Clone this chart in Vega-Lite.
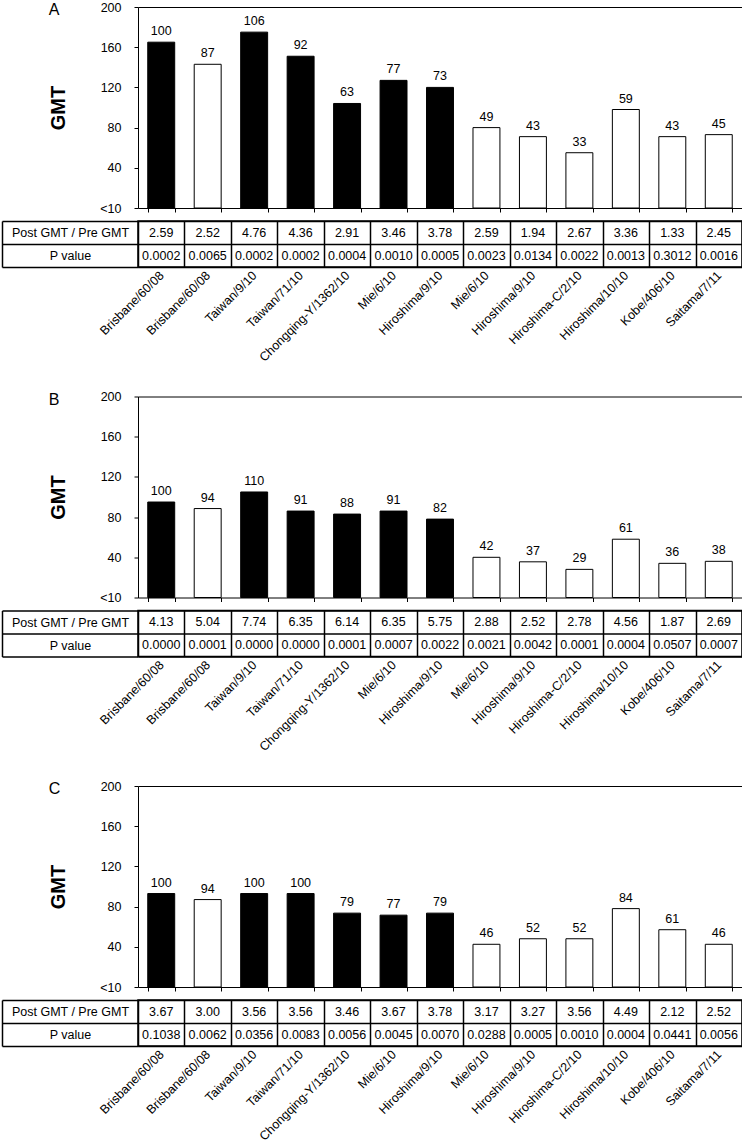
{
  "$schema": "https://vega.github.io/schema/vega-lite/v6.json",
  "autosize": {"type": "pad"},
  "padding": {"left": 0, "top": 0, "right": 0, "bottom": 0},
  "background": "white",
  "spacing": 24.5,
  "data": {"name": "rows"},
  "datasets": {
    "rows": [
      {"panel": "A", "key": "01 Brisbane/60/08", "gmt": 165, "label": 100, "group": "I", "Post GMT / Pre GMT": "2.59", "P value": "0.0002"},
      {"panel": "A", "key": "02 Brisbane/60/08", "gmt": 143, "label": 87, "group": "II", "Post GMT / Pre GMT": "2.52", "P value": "0.0065"},
      {"panel": "A", "key": "03 Taiwan/9/10", "gmt": 175, "label": 106, "group": "I", "Post GMT / Pre GMT": "4.76", "P value": "0.0002"},
      {"panel": "A", "key": "04 Taiwan/71/10", "gmt": 151, "label": 92, "group": "I", "Post GMT / Pre GMT": "4.36", "P value": "0.0002"},
      {"panel": "A", "key": "05 Chongqing-Y/1362/10", "gmt": 104, "label": 63, "group": "I", "Post GMT / Pre GMT": "2.91", "P value": "0.0004"},
      {"panel": "A", "key": "06 Mie/6/10", "gmt": 127, "label": 77, "group": "I", "Post GMT / Pre GMT": "3.46", "P value": "0.0010"},
      {"panel": "A", "key": "07 Hiroshima/9/10", "gmt": 120, "label": 73, "group": "I", "Post GMT / Pre GMT": "3.78", "P value": "0.0005"},
      {"panel": "A", "key": "08 Mie/6/10", "gmt": 80, "label": 49, "group": "II", "Post GMT / Pre GMT": "2.59", "P value": "0.0023"},
      {"panel": "A", "key": "09 Hiroshima/9/10", "gmt": 71, "label": 43, "group": "II", "Post GMT / Pre GMT": "1.94", "P value": "0.0134"},
      {"panel": "A", "key": "10 Hiroshima-C/2/10", "gmt": 55, "label": 33, "group": "II", "Post GMT / Pre GMT": "2.67", "P value": "0.0022"},
      {"panel": "A", "key": "11 Hiroshima/10/10", "gmt": 98, "label": 59, "group": "II", "Post GMT / Pre GMT": "3.36", "P value": "0.0013"},
      {"panel": "A", "key": "12 Kobe/406/10", "gmt": 71, "label": 43, "group": "II", "Post GMT / Pre GMT": "1.33", "P value": "0.3012"},
      {"panel": "A", "key": "13 Saitama/7/11", "gmt": 73, "label": 45, "group": "II", "Post GMT / Pre GMT": "2.45", "P value": "0.0016"},

      {"panel": "B", "key": "01 Brisbane/60/08", "gmt": 95, "label": 100, "group": "I", "Post GMT / Pre GMT": "4.13", "P value": "0.0000"},
      {"panel": "B", "key": "02 Brisbane/60/08", "gmt": 88.5, "label": 94, "group": "II", "Post GMT / Pre GMT": "5.04", "P value": "0.0001"},
      {"panel": "B", "key": "03 Taiwan/9/10", "gmt": 105, "label": 110, "group": "I", "Post GMT / Pre GMT": "7.74", "P value": "0.0000"},
      {"panel": "B", "key": "04 Taiwan/71/10", "gmt": 86, "label": 91, "group": "I", "Post GMT / Pre GMT": "6.35", "P value": "0.0000"},
      {"panel": "B", "key": "05 Chongqing-Y/1362/10", "gmt": 83, "label": 88, "group": "I", "Post GMT / Pre GMT": "6.14", "P value": "0.0001"},
      {"panel": "B", "key": "06 Mie/6/10", "gmt": 86, "label": 91, "group": "I", "Post GMT / Pre GMT": "6.35", "P value": "0.0007"},
      {"panel": "B", "key": "07 Hiroshima/9/10", "gmt": 78, "label": 82, "group": "I", "Post GMT / Pre GMT": "5.75", "P value": "0.0022"},
      {"panel": "B", "key": "08 Mie/6/10", "gmt": 40, "label": 42, "group": "II", "Post GMT / Pre GMT": "2.88", "P value": "0.0021"},
      {"panel": "B", "key": "09 Hiroshima/9/10", "gmt": 35.5, "label": 37, "group": "II", "Post GMT / Pre GMT": "2.52", "P value": "0.0042"},
      {"panel": "B", "key": "10 Hiroshima-C/2/10", "gmt": 28, "label": 29, "group": "II", "Post GMT / Pre GMT": "2.78", "P value": "0.0001"},
      {"panel": "B", "key": "11 Hiroshima/10/10", "gmt": 58, "label": 61, "group": "II", "Post GMT / Pre GMT": "4.56", "P value": "0.0004"},
      {"panel": "B", "key": "12 Kobe/406/10", "gmt": 34, "label": 36, "group": "II", "Post GMT / Pre GMT": "1.87", "P value": "0.0507"},
      {"panel": "B", "key": "13 Saitama/7/11", "gmt": 36, "label": 38, "group": "II", "Post GMT / Pre GMT": "2.69", "P value": "0.0007"},

      {"panel": "C", "key": "01 Brisbane/60/08", "gmt": 93, "label": 100, "group": "I", "Post GMT / Pre GMT": "3.67", "P value": "0.1038"},
      {"panel": "C", "key": "02 Brisbane/60/08", "gmt": 87, "label": 94, "group": "II", "Post GMT / Pre GMT": "3.00", "P value": "0.0062"},
      {"panel": "C", "key": "03 Taiwan/9/10", "gmt": 93, "label": 100, "group": "I", "Post GMT / Pre GMT": "3.56", "P value": "0.0356"},
      {"panel": "C", "key": "04 Taiwan/71/10", "gmt": 93, "label": 100, "group": "I", "Post GMT / Pre GMT": "3.56", "P value": "0.0083"},
      {"panel": "C", "key": "05 Chongqing-Y/1362/10", "gmt": 73.5, "label": 79, "group": "I", "Post GMT / Pre GMT": "3.46", "P value": "0.0056"},
      {"panel": "C", "key": "06 Mie/6/10", "gmt": 71.5, "label": 77, "group": "I", "Post GMT / Pre GMT": "3.67", "P value": "0.0045"},
      {"panel": "C", "key": "07 Hiroshima/9/10", "gmt": 73.5, "label": 79, "group": "I", "Post GMT / Pre GMT": "3.78", "P value": "0.0070"},
      {"panel": "C", "key": "08 Mie/6/10", "gmt": 42.5, "label": 46, "group": "II", "Post GMT / Pre GMT": "3.17", "P value": "0.0288"},
      {"panel": "C", "key": "09 Hiroshima/9/10", "gmt": 48, "label": 52, "group": "II", "Post GMT / Pre GMT": "3.27", "P value": "0.0005"},
      {"panel": "C", "key": "10 Hiroshima-C/2/10", "gmt": 48, "label": 52, "group": "II", "Post GMT / Pre GMT": "3.56", "P value": "0.0010"},
      {"panel": "C", "key": "11 Hiroshima/10/10", "gmt": 78, "label": 84, "group": "II", "Post GMT / Pre GMT": "4.49", "P value": "0.0004"},
      {"panel": "C", "key": "12 Kobe/406/10", "gmt": 57, "label": 61, "group": "II", "Post GMT / Pre GMT": "2.12", "P value": "0.0441"},
      {"panel": "C", "key": "13 Saitama/7/11", "gmt": 42.5, "label": 46, "group": "II", "Post GMT / Pre GMT": "2.52", "P value": "0.0056"}
    ]
  },
  "vconcat": [
    {
      "spacing": -1,
      "vconcat": [
        {
          "width": 604, "height": 201,
          "title": {"text": "A", "anchor": "start", "frame": "bounds", "fontSize": 16, "fontWeight": "normal", "offset": -17, "color": "black"},
          "view": {"stroke": "black", "strokeWidth": 1},
          "transform": [{"filter": "datum.panel === 'A'"}],
          "encoding": {
            "x": {"field": "key", "type": "nominal", "scale": {"paddingInner": 0.42, "paddingOuter": 0.21}, "axis": {"title": null, "labels": false, "domain": false, "ticks": true, "tickBand": "extent", "tickSize": 4, "maxExtent": 4, "minExtent": 4}},
            "y": {"field": "gmt", "type": "quantitative", "scale": {"domain": [0, 200], "nice": false}, "axis": {"title": "GMT", "values": [0, 40, 80, 120, 160, 200], "labelExpr": "datum.value === 0 ? '<10' : datum.label", "grid": false, "domain": false, "tickSize": 4, "labelPadding": 13, "titleFontSize": 20, "titleFontWeight": "bold", "titlePadding": 31}}
          },
          "layer": [
            {"mark": {"type": "bar", "stroke": "black", "strokeWidth": 1}, "encoding": {"fill": {"field": "group", "type": "nominal", "scale": {"domain": ["I", "II"], "range": ["black", "white"]}, "legend": null}}},
            {"mark": {"type": "text", "baseline": "bottom", "dy": -4, "fontSize": 12.5, "color": "black"}, "encoding": {"text": {"field": "label"}}}
          ]
        },
        {
          "width": 604, "height": 46,
          "view": {"stroke": "black", "strokeWidth": 1.5},
          "transform": [{"filter": "datum.panel === 'A'"}, {"fold": ["Post GMT / Pre GMT", "P value"], "as": ["metric", "value"]}],
          "mark": {"type": "text", "fontSize": 12.5, "color": "black"},
          "encoding": {
            "x": {"field": "key", "type": "nominal", "scale": {"type": "band", "paddingInner": 0, "paddingOuter": 0}, "axis": {"title": null, "labelExpr": "substring(datum.label, 3)", "labelAngle": -45, "labelAlign": "right", "labelBaseline": "middle", "labelPadding": 6, "ticks": false, "domain": false, "grid": true, "tickBand": "extent", "gridColor": "black", "gridWidth": 1.5, "gridOpacity": 1}},
            "y": {"field": "metric", "type": "nominal", "sort": ["Post GMT / Pre GMT", "P value"], "scale": {"type": "band", "paddingInner": 0, "paddingOuter": 0}, "axis": {"title": null, "offset": 136, "domain": true, "domainWidth": 1.5, "ticks": true, "tickSize": -136, "tickWidth": 1.5, "tickBand": "extent", "labelAlign": "center", "labelPadding": 68, "grid": true, "gridColor": "black", "gridWidth": 1.5, "gridOpacity": 1}},
            "text": {"field": "value"}
          }
        }
      ]
    },
    {
      "spacing": -1,
      "vconcat": [
        {
          "width": 604, "height": 201,
          "title": {"text": "B", "anchor": "start", "frame": "bounds", "fontSize": 16, "fontWeight": "normal", "offset": -17, "color": "black"},
          "view": {"stroke": "black", "strokeWidth": 1},
          "transform": [{"filter": "datum.panel === 'B'"}],
          "encoding": {
            "x": {"field": "key", "type": "nominal", "scale": {"paddingInner": 0.42, "paddingOuter": 0.21}, "axis": {"title": null, "labels": false, "domain": false, "ticks": true, "tickBand": "extent", "tickSize": 4, "maxExtent": 4, "minExtent": 4}},
            "y": {"field": "gmt", "type": "quantitative", "scale": {"domain": [0, 200], "nice": false}, "axis": {"title": "GMT", "values": [0, 40, 80, 120, 160, 200], "labelExpr": "datum.value === 0 ? '<10' : datum.label", "grid": false, "domain": false, "tickSize": 4, "labelPadding": 13, "titleFontSize": 20, "titleFontWeight": "bold", "titlePadding": 31}}
          },
          "layer": [
            {"mark": {"type": "bar", "stroke": "black", "strokeWidth": 1}, "encoding": {"fill": {"field": "group", "type": "nominal", "scale": {"domain": ["I", "II"], "range": ["black", "white"]}, "legend": null}}},
            {"mark": {"type": "text", "baseline": "bottom", "dy": -4, "fontSize": 12.5, "color": "black"}, "encoding": {"text": {"field": "label"}}}
          ]
        },
        {
          "width": 604, "height": 46,
          "view": {"stroke": "black", "strokeWidth": 1.5},
          "transform": [{"filter": "datum.panel === 'B'"}, {"fold": ["Post GMT / Pre GMT", "P value"], "as": ["metric", "value"]}],
          "mark": {"type": "text", "fontSize": 12.5, "color": "black"},
          "encoding": {
            "x": {"field": "key", "type": "nominal", "scale": {"type": "band", "paddingInner": 0, "paddingOuter": 0}, "axis": {"title": null, "labelExpr": "substring(datum.label, 3)", "labelAngle": -45, "labelAlign": "right", "labelBaseline": "middle", "labelPadding": 6, "ticks": false, "domain": false, "grid": true, "tickBand": "extent", "gridColor": "black", "gridWidth": 1.5, "gridOpacity": 1}},
            "y": {"field": "metric", "type": "nominal", "sort": ["Post GMT / Pre GMT", "P value"], "scale": {"type": "band", "paddingInner": 0, "paddingOuter": 0}, "axis": {"title": null, "offset": 136, "domain": true, "domainWidth": 1.5, "ticks": true, "tickSize": -136, "tickWidth": 1.5, "tickBand": "extent", "labelAlign": "center", "labelPadding": 68, "grid": true, "gridColor": "black", "gridWidth": 1.5, "gridOpacity": 1}},
            "text": {"field": "value"}
          }
        }
      ]
    },
    {
      "spacing": -1,
      "vconcat": [
        {
          "width": 604, "height": 201,
          "title": {"text": "C", "anchor": "start", "frame": "bounds", "fontSize": 16, "fontWeight": "normal", "offset": -17, "color": "black"},
          "view": {"stroke": "black", "strokeWidth": 1},
          "transform": [{"filter": "datum.panel === 'C'"}],
          "encoding": {
            "x": {"field": "key", "type": "nominal", "scale": {"paddingInner": 0.42, "paddingOuter": 0.21}, "axis": {"title": null, "labels": false, "domain": false, "ticks": true, "tickBand": "extent", "tickSize": 4, "maxExtent": 4, "minExtent": 4}},
            "y": {"field": "gmt", "type": "quantitative", "scale": {"domain": [0, 200], "nice": false}, "axis": {"title": "GMT", "values": [0, 40, 80, 120, 160, 200], "labelExpr": "datum.value === 0 ? '<10' : datum.label", "grid": false, "domain": false, "tickSize": 4, "labelPadding": 13, "titleFontSize": 20, "titleFontWeight": "bold", "titlePadding": 31}}
          },
          "layer": [
            {"mark": {"type": "bar", "stroke": "black", "strokeWidth": 1}, "encoding": {"fill": {"field": "group", "type": "nominal", "scale": {"domain": ["I", "II"], "range": ["black", "white"]}, "legend": null}}},
            {"mark": {"type": "text", "baseline": "bottom", "dy": -4, "fontSize": 12.5, "color": "black"}, "encoding": {"text": {"field": "label"}}}
          ]
        },
        {
          "width": 604, "height": 46,
          "view": {"stroke": "black", "strokeWidth": 1.5},
          "transform": [{"filter": "datum.panel === 'C'"}, {"fold": ["Post GMT / Pre GMT", "P value"], "as": ["metric", "value"]}],
          "mark": {"type": "text", "fontSize": 12.5, "color": "black"},
          "encoding": {
            "x": {"field": "key", "type": "nominal", "scale": {"type": "band", "paddingInner": 0, "paddingOuter": 0}, "axis": {"title": null, "labelExpr": "substring(datum.label, 3)", "labelAngle": -45, "labelAlign": "right", "labelBaseline": "middle", "labelPadding": 6, "ticks": false, "domain": false, "grid": true, "tickBand": "extent", "gridColor": "black", "gridWidth": 1.5, "gridOpacity": 1}},
            "y": {"field": "metric", "type": "nominal", "sort": ["Post GMT / Pre GMT", "P value"], "scale": {"type": "band", "paddingInner": 0, "paddingOuter": 0}, "axis": {"title": null, "offset": 136, "domain": true, "domainWidth": 1.5, "ticks": true, "tickSize": -136, "tickWidth": 1.5, "tickBand": "extent", "labelAlign": "center", "labelPadding": 68, "grid": true, "gridColor": "black", "gridWidth": 1.5, "gridOpacity": 1}},
            "text": {"field": "value"}
          }
        }
      ]
    }
  ],
  "config": {
    "font": "Liberation Sans",
    "axis": {"labelFont": "Liberation Sans", "titleFont": "Liberation Sans", "labelFontSize": 12.5, "labelColor": "black", "titleColor": "black", "tickColor": "black", "domainColor": "black", "labelOverlap": false, "labelLimit": 300},
    "title": {"font": "Liberation Sans", "color": "black"},
    "text": {"font": "Liberation Sans"}
  }
}
